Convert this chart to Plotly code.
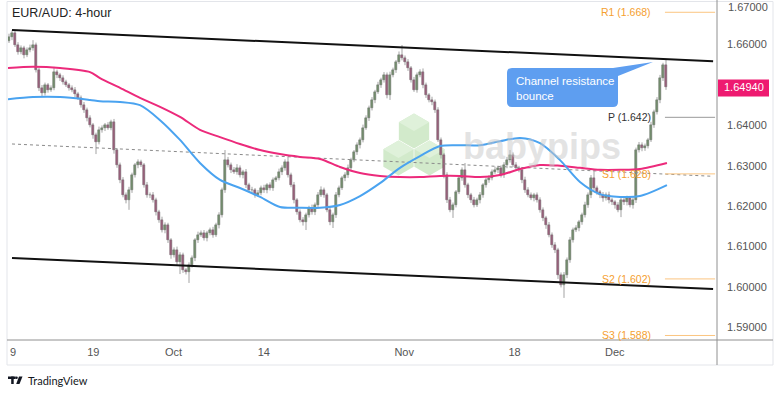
import numpy as np
import plotly.graph_objects as go

# ---------------- data ----------------
title_text = "EUR/AUD: 4-hour"
first_open = 1.6610
closes = [
    1.6619, 1.6629, 1.6599, 1.6582, 1.6592, 1.6574, 1.6587, 1.6592, 1.6599, 1.6537, 1.6493, 1.6480, 1.6500, 1.6488, 1.6493, 1.6532, 1.6525, 1.6517, 1.6507, 1.6500,
    1.6493, 1.6488, 1.6478, 1.6468, 1.6450, 1.6438, 1.6418, 1.6401, 1.6376, 1.6359, 1.6389, 1.6394, 1.6401, 1.6394, 1.6408, 1.6339, 1.6302, 1.6265, 1.6228, 1.6215,
    1.6240, 1.6277, 1.6302, 1.6309, 1.6302, 1.6252, 1.6228, 1.6228, 1.6215, 1.6186, 1.6166, 1.6141, 1.6153, 1.6116, 1.6079, 1.6092, 1.6062, 1.6079, 1.6042, 1.6037,
    1.6054, 1.6072, 1.6116, 1.6129, 1.6134, 1.6121, 1.6134, 1.6141, 1.6129, 1.6153, 1.6178, 1.6240, 1.6314, 1.6302, 1.6290, 1.6285, 1.6295, 1.6277, 1.6285, 1.6252,
    1.6240, 1.6240, 1.6228, 1.6233, 1.6245, 1.6240, 1.6252, 1.6245, 1.6265, 1.6270, 1.6285, 1.6295, 1.6309, 1.6277, 1.6252, 1.6215, 1.6186, 1.6166, 1.6161, 1.6178,
    1.6196, 1.6186, 1.6203, 1.6228, 1.6240, 1.6228, 1.6191, 1.6161, 1.6178, 1.6228, 1.6245, 1.6270, 1.6277, 1.6295, 1.6314, 1.6334, 1.6351, 1.6364, 1.6394, 1.6418,
    1.6443, 1.6463, 1.6483, 1.6500, 1.6512, 1.6525, 1.6475, 1.6525, 1.6537, 1.6557, 1.6574, 1.6567, 1.6557, 1.6542, 1.6512, 1.6488, 1.6525, 1.6532, 1.6500, 1.6475,
    1.6463, 1.6458, 1.6438, 1.6364, 1.6327, 1.6277, 1.6215, 1.6191, 1.6203, 1.6235, 1.6270, 1.6290, 1.6252, 1.6228, 1.6215, 1.6203, 1.6215, 1.6228, 1.6252, 1.6265,
    1.6270, 1.6285, 1.6290, 1.6295, 1.6277, 1.6302, 1.6314, 1.6327, 1.6302, 1.6295, 1.6290, 1.6265, 1.6240, 1.6228, 1.6220, 1.6228, 1.6215, 1.6191, 1.6171, 1.6153,
    1.6129, 1.6104, 1.6092, 1.6030, 1.6005, 1.6030, 1.6067, 1.6116, 1.6141, 1.6146, 1.6161, 1.6178, 1.6203, 1.6228, 1.6270, 1.6245, 1.6235, 1.6228, 1.6220, 1.6228,
    1.6215, 1.6210, 1.6203, 1.6191, 1.6215, 1.6210, 1.6220, 1.6203, 1.6215, 1.6339, 1.6351, 1.6344, 1.6349, 1.6364, 1.6401, 1.6433, 1.6463, 1.6517, 1.6549, 1.6494,
]
# wick lengths in pips (0.0001)
up_wick = [
    8, 6, 5, 7, 6, 5, 6, 8, 12, 6, 5, 7, 6, 5, 6, 13, 6, 5, 7, 6,
    5, 6, 7, 5, 6, 8, 6, 7, 5, 6, 8, 6, 5, 7, 6, 8, 5, 6, 7, 6,
    8, 6, 5, 7, 6, 5, 8, 6, 7, 6, 5, 8, 7, 6, 5, 6, 8, 7, 6, 5,
    7, 6, 5, 8, 6, 7, 5, 6, 8, 6, 7, 6, 25, 8, 6, 7, 9, 6, 5, 7,
    6, 8, 5, 7, 6, 8, 5, 7, 6, 5, 8, 6, 7, 13, 6, 8, 5, 6, 7, 6,
    5, 8, 6, 7, 9, 6, 5, 8, 6, 7, 6, 5, 7, 8, 6, 5, 7, 6, 8, 7,
    6, 7, 5, 8, 6, 7, 6, 8, 6, 5, 9, 25, 6, 7, 5, 8, 6, 7, 9, 6,
    5, 8, 6, 7, 6, 5, 7, 8, 6, 5, 7, 6, 17, 6, 5, 8, 6, 7, 5, 6,
    7, 6, 8, 5, 6, 7, 8, 12, 6, 7, 5, 6, 8, 7, 6, 5, 6, 7, 6, 5,
    8, 6, 7, 5, 6, 7, 6, 8, 6, 7, 5, 6, 8, 6, 7, 20, 6, 5, 7, 6,
    8, 6, 5, 7, 6, 8, 6, 5, 7, 6, 8, 7, 6, 5, 8, 6, 7, 8, 6, 13,
]
lo_wick = [
    6, 8, 5, 7, 6, 8, 5, 6, 7, 6, 8, 9, 6, 7, 5, 6, 8, 7, 6, 5,
    7, 6, 8, 5, 6, 7, 8, 6, 9, 30, 6, 7, 8, 5, 6, 9, 7, 8, 6, 8,
    24, 7, 6, 8, 5, 6, 7, 8, 6, 9, 7, 6, 8, 7, 9, 6, 8, 30, 7, 6,
    27, 6, 8, 7, 5, 6, 8, 6, 7, 5, 8, 6, 7, 6, 8, 5, 7, 6, 8, 7,
    6, 8, 7, 5, 6, 7, 8, 6, 7, 5, 6, 8, 7, 6, 5, 8, 7, 6, 9, 20,
    6, 7, 8, 6, 5, 7, 6, 8, 15, 7, 6, 5, 8, 7, 6, 5, 7, 8, 6, 5,
    7, 6, 8, 5, 7, 6, 8, 12, 6, 7, 5, 6, 8, 7, 6, 5, 7, 6, 8, 7,
    6, 8, 7, 5, 9, 8, 7, 6, 20, 6, 5, 7, 6, 8, 7, 6, 5, 8, 7, 6,
    7, 6, 5, 8, 6, 7, 8, 6, 5, 7, 6, 8, 7, 6, 5, 8, 6, 7, 8, 9,
    6, 7, 8, 10, 6, 32, 8, 7, 6, 5, 8, 7, 6, 7, 8, 6, 7, 8, 9, 6,
    8, 7, 9, 6, 18, 7, 8, 6, 9, 7, 6, 8, 7, 6, 5, 7, 6, 8, 7, 6,
]

tick_days = [0, 8, 16, 25, 39, 50, 60]
tick_text = ["9", "19", "Oct", "14", "Nov", "18", "Dec"]
price_ticks = [1.59, 1.60, 1.61, 1.62, 1.63, 1.64, 1.66]
top_tick = 1.67

ma_days = [-0.5, 2.0, 4.69, 7.68, 8.67, 10.67, 12.66, 14.66, 16.65, 18.64, 20.64, 22.63, 24.63,
           26.62, 28.61, 30.61, 32.60, 34.60, 36.59, 38.58, 40.58, 42.57, 44.57, 46.56, 48.55,
           50.55, 52.54, 54.54, 56.53, 58.52, 60.52, 62.51, 65.20]
pink_ma = [1.6542, 1.6545, 1.6542, 1.6532, 1.6517, 1.6493, 1.6468, 1.6446, 1.6421, 1.6389, 1.6371,
           1.6354, 1.6339, 1.6329, 1.6322, 1.6317, 1.6297, 1.6282, 1.6275, 1.6272, 1.6272, 1.6275,
           1.6275, 1.6272, 1.6277, 1.6292, 1.6302, 1.6300, 1.6295, 1.6290, 1.6290, 1.6292, 1.6307]
blue_ma = [1.6465, 1.6470, 1.6470, 1.6463, 1.6460, 1.6458, 1.6450, 1.6413, 1.6364, 1.6307, 1.6265,
           1.6245, 1.6223, 1.6198, 1.6196, 1.6196, 1.6203, 1.6225, 1.6257, 1.6295, 1.6324, 1.6349,
           1.6351, 1.6351, 1.6361, 1.6369, 1.6356, 1.6314, 1.6260, 1.6230, 1.6223, 1.6225, 1.6252]

line_days = [-0.1, 69.8]
upper_channel = [1.6636, 1.6559]
lower_channel = [1.6072, 1.5995]
mid_line = [1.6354, 1.6274]

pivot_names = ["R1", "P", "S1", "S2", "S3"]
pivot_values = [1.668, 1.642, 1.628, 1.602, 1.588]
last_price = 1.64940
callout_text = "Channel resistance<br>bounce"

# ---------------- geometry helpers (layout only) ----------------
W, H = 780, 393
PL, PR, PT, PB = 8, 717, 0, 340
def px(x):
    return (x - PL) / (PR - PL)
def py(y):
    return (PB - y) / (PB - PT)

n = len(closes)
bar_x = (np.arange(n) * 3 - 4) / 10.03
opens = [first_open] + closes[:-1]
highs = [max(o, c) + u * 0.0001 for o, c, u in zip(opens, closes, up_wick)]
lows = [min(o, c) - l * 0.0001 for o, c, l in zip(opens, closes, lo_wick)]

fig = go.Figure()

# wicks
wx, wy = [], []
for x, lo, hi in zip(bar_x, lows, highs):
    wx += [x, x, None]
    wy += [lo, hi, None]
fig.add_trace(go.Scatter(x=wx, y=wy, mode="lines", line=dict(color="#a3a3a3", width=1),
                         hoverinfo="skip"))
# bodies
base = [min(o, c) for o, c in zip(opens, closes)]
height = [max(abs(c - o), 0.00008) for o, c in zip(opens, closes)]
cols = ["#467f38" if c >= o else "#961c57" for o, c in zip(opens, closes)]
fig.add_trace(go.Bar(x=bar_x, y=height, base=base, width=0.2,
                     marker=dict(color=cols, line=dict(color="#2a2a2a", width=0.4))))

# mid dashed line
fig.add_trace(go.Scatter(x=line_days, y=mid_line, mode="lines",
                         line=dict(color="#8a8a8a", width=1, dash="3px,3px")))
# moving averages
fig.add_trace(go.Scatter(x=ma_days, y=pink_ma, mode="lines",
                         line=dict(color="#EC2A7B", width=2, shape="spline", smoothing=0.8)))
fig.add_trace(go.Scatter(x=ma_days, y=blue_ma, mode="lines",
                         line=dict(color="#4AA3F0", width=2, shape="spline", smoothing=0.8)))
# channel lines
fig.add_trace(go.Scatter(x=line_days, y=upper_channel, mode="lines", line=dict(color="#111", width=2)))
fig.add_trace(go.Scatter(x=line_days, y=lower_channel, mode="lines", line=dict(color="#111", width=2)))

shapes = []
annotations = []

# watermark: babypips cubes
def hexagon(cx, cy, r, color):
    pts = []
    for a in [90, 30, -30, -90, -150, 150]:
        t = np.radians(a)
        pts.append((cx + r * np.cos(t), cy - r * np.sin(t)))
    d = "M " + " L ".join(f"{px(x):.5f},{py(y):.5f}" for x, y in pts) + " Z"
    return dict(type="path", path=d, xref="paper", yref="paper", fillcolor=color,
                line=dict(width=0), layer="below")
def topface(cx, cy, r, color):
    pts = [(cx, cy - r), (cx + r * 0.866, cy - r * 0.5), (cx, cy), (cx - r * 0.866, cy - r * 0.5)]
    d = "M " + " L ".join(f"{px(x):.5f},{py(y):.5f}" for x, y in pts) + " Z"
    return dict(type="path", path=d, xref="paper", yref="paper", fillcolor=color,
                line=dict(width=0), layer="below")
for cx, cy in [(414, 131), (398.5, 158), (429.5, 158)]:
    shapes.append(hexagon(cx, cy, 17.5, "#d2eacb"))
    shapes.append(topface(cx, cy, 17.5, "#dff1da"))
annotations.append(dict(x=px(542), y=py(146), xref="paper", yref="paper", text="<b>babypips</b>",
                        showarrow=False, font=dict(family="Liberation Sans", size=36, color="rgba(200,200,200,0.5)"),
                        xanchor="center", yanchor="middle"))

# frame lines
shapes.append(dict(type="rect", xref="paper", yref="paper", x0=px(7), x1=px(773), y0=py(1.5), y1=py(365),
                   line=dict(color="#e3e5ea", width=1)))
shapes.append(dict(type="line", xref="paper", yref="paper", x0=px(7), x1=px(773), y0=py(340), y1=py(340),
                   line=dict(color="#909090", width=1)))
shapes.append(dict(type="line", xref="paper", yref="paper", x0=px(717), x1=px(717), y0=py(0), y1=py(365),
                   line=dict(color="#909090", width=1)))

# pivot lines and labels
for name, val in zip(pivot_names, pivot_values):
    is_p = name == "P"
    shapes.append(dict(type="line", xref="x", yref="y", x0=65.0, x1=70.0, y0=val, y1=val,
                       line=dict(color="#9a9a9a" if is_p else "#FBC580", width=1)))
    annotations.append(dict(x=63.8, y=val, xref="x", yref="y", text=f"{name} ({val:.3f})",
                            showarrow=False, xanchor="right", yanchor="middle",
                            font=dict(family="Liberation Sans", size=10.5,
                                      color="#333333" if is_p else "#F5A030")))

# callout
pts_path = (f"M {px(512)},{py(68)} L {px(613)},{py(68)} L {px(653)},{py(62)} L {px(618)},{py(76)} "
            f"L {px(618)},{py(102)} Q {px(618)},{py(107)} {px(613)},{py(107)} L {px(512)},{py(107)} "
            f"Q {px(507)},{py(107)} {px(507)},{py(102)} L {px(507)},{py(73)} Q {px(507)},{py(68)} {px(512)},{py(68)} Z")
shapes.append(dict(type="path", path=pts_path, xref="paper", yref="paper", fillcolor="#5E9EF0",
                   line=dict(width=0), layer="above"))
annotations.append(dict(x=px(514), y=py(88.5), xref="paper", yref="paper", text=callout_text,
                        showarrow=False, xanchor="left", yanchor="middle", align="left",
                        font=dict(family="Liberation Sans", size=11.5, color="white")))

# last price label
shapes.append(dict(type="rect", xref="paper", yref="paper", x0=px(718), x1=px(769),
                   y0=py(79.5), y1=py(96.5), fillcolor="#EE1A70", line=dict(width=0), layer="above"))
annotations.append(dict(x=px(743.5), y=last_price, xref="paper", yref="y", text=f"{last_price:.5f}",
                        showarrow=False, xanchor="center", yanchor="middle",
                        font=dict(family="Liberation Sans", size=11, color="white")))
# top price label, nudged down so it stays fully on the page
annotations.append(dict(x=px(726), y=top_tick, xref="paper", yref="y", text=f"{top_tick:.5f}",
                        showarrow=False, xanchor="left", yanchor="middle", yshift=-3,
                        font=dict(family="Liberation Sans", size=11, color="#555")))

# title
annotations.append(dict(x=px(10), y=py(13), xref="paper", yref="paper", text=title_text, showarrow=False,
                        xanchor="left", yanchor="middle",
                        font=dict(family="Liberation Sans", size=12.5, color="#222")))

# TradingView logo
def rect_px(x0, y0, x1, y1):
    return dict(type="rect", xref="paper", yref="paper", x0=px(x0), x1=px(x1), y0=py(y0), y1=py(y1),
                fillcolor="#131722", line=dict(width=0))
shapes.append(rect_px(8, 376.5, 15.5, 379))
shapes.append(rect_px(11.2, 376.5, 13.7, 384))
shapes.append(dict(type="circle", xref="paper", yref="paper", x0=px(15.2), x1=px(17.8), y0=py(376.5),
                   y1=py(379.1), fillcolor="#131722", line=dict(width=0)))
shapes.append(dict(type="path", xref="paper", yref="paper", fillcolor="#131722", line=dict(width=0),
                   path=f"M {px(19)},{py(376.5)} L {px(22.5)},{py(376.5)} L {px(19.5)},{py(384)} L {px(16.2)},{py(384)} Z"))
annotations.append(dict(x=px(26), y=py(380.5), xref="paper", yref="paper", text="TradingView",
                        showarrow=False, xanchor="left", yanchor="middle",
                        font=dict(family="Lato", size=11, color="#131722")))

fig.update_layout(
    width=W, height=H, margin=dict(l=PL, r=W - PR, t=PT, b=H - PB),
    paper_bgcolor="white", plot_bgcolor="white", showlegend=False,
    shapes=shapes, annotations=annotations, bargap=0,
)
fig.update_xaxes(range=[-0.5, 70.19], tickvals=tick_days, ticktext=tick_text, showgrid=False,
                 zeroline=False, ticks="", showline=False, ticklabelstandoff=4,
                 tickfont=dict(family="Liberation Sans", size=11, color="#555"))
fig.update_yaxes(range=[1.58688, 1.67104], side="right", tickvals=price_ticks, tickformat=".5f",
                 showgrid=False, zeroline=False, ticks="", showline=False, ticklabelstandoff=9,
                 tickfont=dict(family="Liberation Sans", size=11, color="#555"))

fig.write_html("out.html")
